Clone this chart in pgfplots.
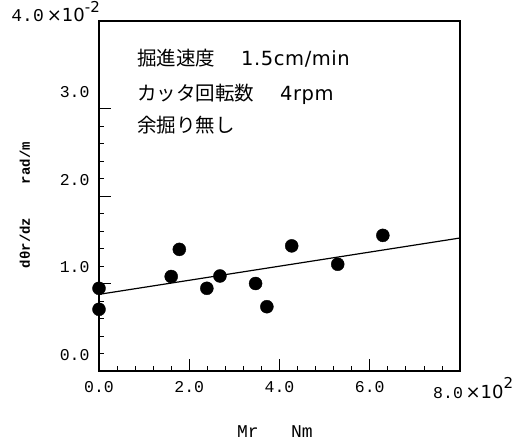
\documentclass[border=0pt]{standalone}
\usepackage{fontspec}
\setmonofont{Liberation Mono}
\newfontfamily\jp{Noto Sans CJK JP}
\newfontfamily\dv{DejaVu Sans}
\usepackage{pgfplots}
\pgfplotsset{compat=1.18}
\begin{document}
\begin{tikzpicture}
\useasboundingbox (-99pt,-76pt) rectangle (433pt,371pt);
\begin{axis}[
  scale only axis,
  width=361pt, height=350pt,
  xmin=0, xmax=8, ymin=0, ymax=4,
  axis line style={line width=1.4pt},
  tick pos=left, tick align=inside,
  xtick={0,2,4,6,8}, xticklabels={0.0,2.0,4.0,6.0,},
  ytick={0,1,2,3}, yticklabels={0.0,1.0,2.0,3.0},
  minor x tick num=4, minor y tick num=4,
  major tick length=12pt, minor tick length=5pt,
  tick style={line width=0.8pt, black},
  ticklabel style={font=\fontsize{16.5}{19}\selectfont\ttfamily},
  xticklabel style={yshift=-7pt},
  yticklabel style={yshift=16pt, xshift=-6pt},
  xlabel={Mr\ \ \ Nm},
  xlabel style={font=\fontsize{18}{20}\selectfont\ttfamily, at={(axis description cs:0.4875,-0.174)}, anchor=center},
  ylabel={dθr/dz\ \ \ \ rad/m},
  ylabel style={font=\fontsize{14}{16}\selectfont\ttfamily\bfseries, at={(axis description cs:-0.205,0.474)}, anchor=center},
  clip=false,
]
\addplot[black, line width=1.2pt] coordinates {(0,0.876) (8,1.52)};
\addplot[only marks, mark=*, mark size=6.5pt, black] coordinates {
(0.00,0.945) (0.00,0.705) (1.60,1.08) (1.78,1.39) (2.39,0.945) (2.68,1.086)
(3.47,1.00) (3.72,0.735) (4.27,1.43) (5.29,1.22) (6.29,1.55)};
\node[anchor=base west, inner sep=0, font=\fontsize{19.5}{23}\selectfont\jp] at (axis cs:0.84,3.49) {掘進速度\hspace{26pt}{\dv\addfontfeature{LetterSpace=3} 1.5cm/min}};
\node[anchor=base west, inner sep=0, font=\fontsize{19.5}{23}\selectfont\jp] at (axis cs:0.84,3.09) {カッタ回転数\hspace{26pt}{\dv\addfontfeature{LetterSpace=3} 4rpm}};
\node[anchor=base west, inner sep=0, font=\fontsize{19.5}{23}\selectfont\jp] at (axis cs:0.84,2.73) {余掘り無し};
\node[anchor=base east, inner sep=0] at ([xshift=1pt,yshift=-1pt]rel axis cs:0,1) {\fontsize{18}{20}\selectfont\ttfamily 4.0\,{\dv ×10}\raisebox{1.0ex}{\dv\fontsize{15}{18}\selectfont -2}};
\node[anchor=base west, inner sep=0] at ([xshift=-27pt,yshift=-27pt]rel axis cs:1,0) {\fontsize{16.5}{19}\selectfont\ttfamily 8.0\,{\dv\fontsize{18}{20}\selectfont ×10}\raisebox{1.1ex}{\dv\fontsize{15}{18}\selectfont 2}};
\end{axis}
\end{tikzpicture}
\end{document}
